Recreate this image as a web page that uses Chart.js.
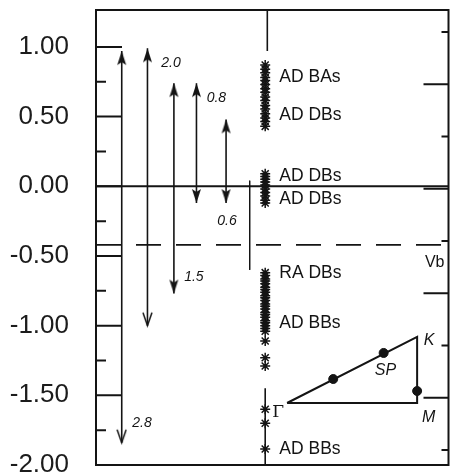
<!DOCTYPE html>
<html>
<head>
<meta charset="utf-8">
<script src="https://cdn.jsdelivr.net/npm/chart.js@4"></script>
<style>
html, body { margin: 0; padding: 0; background: #fff; overflow: hidden; }
#wrap { width: 455px; height: 472px; position: relative; }
</style>
</head>
<body>
<div id="wrap"><canvas id="chart"></canvas></div>
<script>
// left axis (energy) ticks
const majorTicks = [1.00, 0.50, 0.00, -0.50, -1.00, -1.50, -2.00];
const minorTicks = [0.75, 0.25, -0.25, -0.75, -1.25, -1.75];
// right axis ticks, long / short alternating
const rightTicks = [0, 1, 2, 3, 4, 5, 6, 7, 8];
const rightLong = [false, true, false, true, false, true, false, true, false];

// vertical arrows: column, top, bottom, label
const arrowX = [7.3, 14.6, 22.1, 28.5, 36.9];
const arrowTop = [0.97, 0.99, 0.74, 0.74, 0.48];
const arrowBottom = [-1.84, -1.00, -0.77, -0.12, -0.12];
const arrowLabels = ['2.8', '2.0', '1.5', '0.8', '0.6'];
const arrowLabelX = [10.3, 18.5, 25.0, 31.4, 34.4];
const arrowLabelY = [-1.70, 0.885, -0.65, 0.635, -0.25];

// measured levels (asterisks)
const levelX = 48.0;
const levelsBA = [0.87, 0.84, 0.815, 0.78, 0.76, 0.73, 0.70, 0.675, 0.64, 0.615, 0.58, 0.555, 0.52, 0.49, 0.465, 0.43];
const levelsDB = [0.09, 0.07, 0.05, 0.03, 0.01, -0.02, -0.045, -0.07, -0.10, -0.12];
const levelsBB = [-0.62, -0.64, -0.665, -0.68, -0.70, -0.725, -0.74, -0.76, -0.785, -0.80, -0.82, -0.845, -0.86, -0.88, -0.905, -0.92, -0.94, -0.965, -0.98, -1.00, -1.02, -1.04, -1.11, -1.23, -1.29];
const levelsLow = [-1.60, -1.70, -1.885];
const levelText = ['AD BAs', 'AD DBs', 'AD DBs', 'AD DBs', 'RA DBs', 'AD BBs', 'AD BBs'];
const levelTextY = [0.786, 0.513, 0.075, -0.09, -0.62, -0.98, -1.89];
const levelTextX = 52.0;

// reference lines
const zeroLevel = 0.0;
const vbLevel = -0.42;

// Brillouin zone sketch: Gamma, M, K
const zoneX = [54.2, 91.1, 91.1, 54.2];
const zoneY = [-1.555, -1.555, -1.081, -1.555];
const zoneDotX = [67.3, 81.6, 91.1];
const zoneDotY = [-1.383, -1.196, -1.469];
const zoneText = ['\u0393', 'K', 'SP', 'M', 'Vb'];
const zoneTextX = [50.0, 93.0, 79.1, 92.5, 93.3];
const zoneTextY = [-1.627, -1.11, -1.325, -1.662, -0.545];

const ink = '#141414';
const font = '"Liberation Sans", Arial, sans-serif';

function makeHead(open) {
  const c = document.createElement('canvas');
  c.width = 11; c.height = 32;
  const g = c.getContext('2d');
  g.fillStyle = ink; g.strokeStyle = ink; g.lineWidth = 1.5;
  g.beginPath();
  if (open) {
    g.moveTo(1, 29); g.lineTo(5.5, 16); g.lineTo(10, 29);
    g.stroke();
  } else {
    g.moveTo(5.5, 16); g.lineTo(10, 30); g.lineTo(5.5, 27); g.lineTo(1, 30);
    g.closePath(); g.fill();
  }
  return c;
}
const filledHead = makeHead(false);
const openHead = makeHead(true);

const datasets = [];
const segment = (pts, extra) => Object.assign({
  data: pts, showLine: true, borderColor: ink, borderWidth: 2, pointRadius: 0
}, extra || {});

datasets.push(segment([{x: 0, y: zeroLevel}, {x: 100, y: zeroLevel}]));
datasets.push(segment([{x: 0, y: vbLevel}, {x: 100, y: vbLevel}], {borderDash: [25, 15], borderWidth: 1.8}));

arrowX.forEach((x, i) => {
  datasets.push(segment([{x: x, y: arrowTop[i]}, {x: x, y: arrowBottom[i]}], {
    borderWidth: 1.6,
    pointRadius: 3,
    pointStyle: [filledHead, i < 2 ? openHead : filledHead],
    pointRotation: [0, 180]
  }));
});

// thin marker lines near the level column
datasets.push(segment([{x: 43.6, y: 0.04}, {x: 43.6, y: -0.60}], {borderWidth: 1}));
datasets.push(segment([{x: 48.6, y: 1.265}, {x: 48.6, y: 0.97}], {borderWidth: 1.6}));
datasets.push(segment([{x: levelX, y: -1.45}, {x: levelX, y: -2.0}], {borderWidth: 1.6}));

[levelsBA, levelsDB, levelsBB, levelsLow].forEach(vals => {
  datasets.push({
    data: vals.map(v => ({x: levelX, y: v})),
    pointStyle: 'star', pointRadius: 5, borderColor: ink, borderWidth: 1.5, backgroundColor: ink
  });
});

datasets.push(segment(zoneX.map((x, i) => ({x: x, y: zoneY[i]})), {borderWidth: 2}));
datasets.push({
  data: zoneDotX.map((x, i) => ({x: x, y: zoneDotY[i]})),
  pointStyle: 'circle', pointRadius: 4.5, backgroundColor: ink, borderColor: ink
});

const frame = {
  id: 'frame',
  beforeDatasetsDraw(chart) {
    const {ctx, chartArea: a, scales: {y, y2}} = chart;
    ctx.save();
    ctx.strokeStyle = ink;
    ctx.lineWidth = 2;
    ctx.strokeRect(a.left, a.top, a.right - a.left, a.bottom - a.top);
    ctx.beginPath();
    majorTicks.forEach(v => {
      const p = y.getPixelForValue(v);
      ctx.moveTo(a.left, p); ctx.lineTo(a.left + 26, p);
    });
    minorTicks.forEach(v => {
      const p = y.getPixelForValue(v);
      ctx.moveTo(a.left, p); ctx.lineTo(a.left + 10, p);
    });
    rightTicks.forEach((v, i) => {
      const p = y2.getPixelForValue(v);
      ctx.moveTo(a.right, p); ctx.lineTo(a.right - (rightLong[i] ? 25 : 7), p);
    });
    ctx.stroke();
    ctx.restore();
  }
};

const labels = {
  id: 'labels',
  afterDatasetsDraw(chart) {
    const {ctx, scales: {x, y}} = chart;
    ctx.save();
    ctx.fillStyle = ink;
    ctx.textBaseline = 'middle';
    ctx.textAlign = 'left';
    ctx.font = 'italic 14px ' + font;
    arrowLabels.forEach((t, i) => ctx.fillText(t, x.getPixelForValue(arrowLabelX[i]), y.getPixelForValue(arrowLabelY[i])));
    ctx.font = '17.5px ' + font;
    levelText.forEach((t, i) => ctx.fillText(t, x.getPixelForValue(levelTextX), y.getPixelForValue(levelTextY[i])));
    zoneText.forEach((t, i) => {
      ctx.font = (i === 0 ? '17px "DejaVu Serif", serif' : i === 4 ? '16px ' + font : 'italic 16px ' + font);
      ctx.fillText(t, x.getPixelForValue(zoneTextX[i]), y.getPixelForValue(zoneTextY[i]));
    });
    ctx.restore();
  }
};

new Chart(document.getElementById('chart'), {
  type: 'scatter',
  data: {datasets: datasets},
  options: {
    responsive: true,
    maintainAspectRatio: false,
    animation: false,
    devicePixelRatio: 1,
    layout: {padding: {top: 10, right: 0, bottom: 7, left: 0}},
    plugins: {legend: {display: false}, tooltip: {enabled: false}},
    scales: {
      x: {type: 'linear', min: 0, max: 100, display: false},
      y: {
        type: 'linear', position: 'left', min: -2, max: 1.265,
        afterFit(s) { s.width = 96; s.paddingTop = 0; s.paddingBottom = 0; },
        grid: {display: false},
        border: {display: false},
        ticks: {
          stepSize: 0.5, includeBounds: false, autoSkip: false, padding: 19,
          color: '#1c1c1c', font: {family: font, size: 26},
          callback: v => v.toFixed(2)
        }
      },
      y2: {type: 'linear', position: 'right', min: -0.287, max: 8.42, display: false}
    }
  },
  plugins: [frame, labels]
});
</script>
</body>
</html>
